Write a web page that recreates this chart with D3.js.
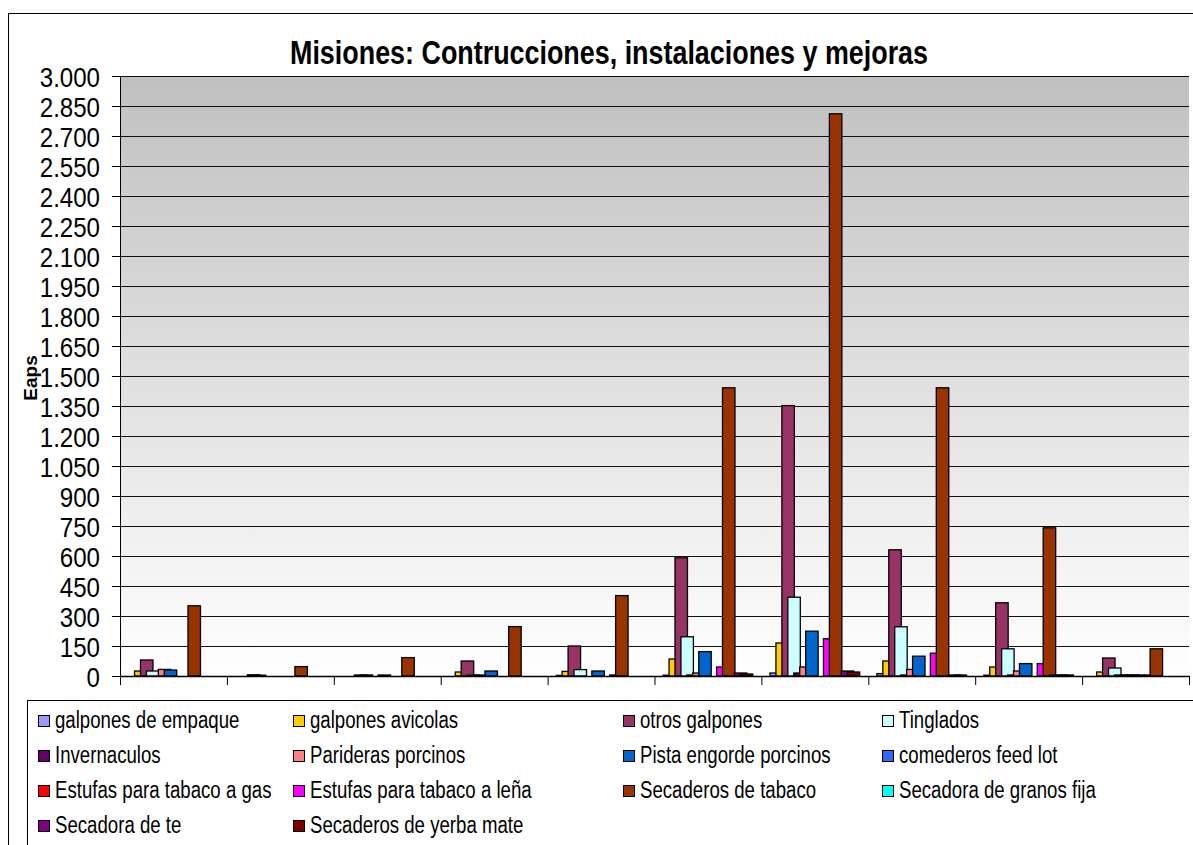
<!DOCTYPE html>
<html>
<head>
<meta charset="utf-8">
<script src="https://cdn.jsdelivr.net/npm/d3@7"></script>
<style>
  body { margin: 0; background: #fff; }
  text { font-family: "Liberation Sans", Arial, sans-serif; }
</style>
</head>
<body>
<div id="chart"></div>
<script>
// Categories (no labels shown on the x axis)
let categorias = ['1', '2', '3', '4', '5', '6', '7', '8', '9', '10'];

// One array per series (Eaps)
let galponesEmpaque   = [0, 0, 0, 0, 3, 4, 15, 12, 4, 0];
let galponesAvicolas  = [25, 0, 0, 20, 23, 85, 165, 75, 45, 20];
let otrosGalpones     = [80, 6, 5, 75, 150, 591, 1352, 631, 366, 90];
let tinglados         = [25, 4, 5, 4, 32, 196, 394, 246, 136, 40];
let invernaculos      = [0, 0, 0, 5, 0, 5, 15, 5, 5, 5];
let parideras         = [33, 0, 0, 0, 0, 15, 45, 33, 25, 5];
let pistaEngorde      = [30, 0, 5, 25, 25, 122, 224, 99, 62, 5];
let comederos         = [0, 0, 0, 0, 0, 0, 0, 0, 0, 5];
let estufasGas        = [0, 0, 0, 0, 0, 0, 0, 0, 0, 0];
let estufasLena       = [0, 0, 0, 0, 5, 45, 186, 114, 62, 5];
let secaderosTabaco   = [351, 47, 92, 247, 402, 1441, 2811, 1441, 741, 136];
let secadoraGranos    = [0, 0, 0, 0, 0, 0, 0, 0, 4, 0];
let secadoraTe        = [0, 0, 0, 0, 0, 15, 25, 5, 5, 0];
let secaderosYerba    = [0, 0, 0, 0, 0, 10, 20, 5, 5, 0];

let nombres = ['galpones de empaque', 'galpones avicolas', 'otros galpones', 'Tinglados',
    'Invernaculos', 'Parideras porcinos', 'Pista engorde porcinos', 'comederos feed lot',
    'Estufas para tabaco a gas', 'Estufas para tabaco a leña', 'Secaderos de tabaco',
    'Secadora de granos fija', 'Secadora de te', 'Secaderos de yerba mate'];

let colores = ['#9999ff', '#ffcc00', '#993366', '#ccffff', '#660066', '#ff8080', '#0066cc',
    '#3366ff', '#ff0000', '#ff00ff', '#993300', '#00ffff', '#800080', '#800000'];

let valores = [galponesEmpaque, galponesAvicolas, otrosGalpones, tinglados, invernaculos,
    parideras, pistaEngorde, comederos, estufasGas, estufasLena, secaderosTabaco,
    secadoraGranos, secadoraTe, secaderosYerba];

let yTicks = d3.range(0, 3001, 150);

let svgWidth = 1193;
let svgHeight = 845;

let plot = { left: 120, right: 1189, top: 76, bottom: 676 };

// squeeze text horizontally, the original uses a narrow font
function narrow(sel, k) {
    sel.each(function() {
        let w = this.getComputedTextLength();
        d3.select(this)
            .attr('textLength', w * k)
            .attr('lengthAdjust', 'spacingAndGlyphs');
    });
}

let svg = d3.select('#chart')
    .append('svg')
    .attr('width', svgWidth)
    .attr('height', svgHeight);

// Outer chart border
svg.append('rect')
    .attr('x', 8.5).attr('y', 13.5)
    .attr('width', 1200).attr('height', 900)
    .attr('fill', '#fff')
    .attr('stroke', '#000')
    .attr('stroke-width', 1);

// Background gradient for the plot area
let grad = svg.append('defs').append('linearGradient')
    .attr('id', 'bg')
    .attr('x1', 0).attr('y1', 0).attr('x2', 0).attr('y2', 1);
grad.append('stop').attr('offset', '0%').attr('stop-color', '#c0c0c0');
grad.append('stop').attr('offset', '100%').attr('stop-color', '#ffffff');

svg.append('rect')
    .attr('x', plot.left).attr('y', plot.top)
    .attr('width', plot.right - plot.left).attr('height', plot.bottom - plot.top)
    .attr('fill', 'url(#bg)');

// Scales
let x0 = d3.scaleBand()
    .domain(categorias)
    .range([plot.left, plot.right])
    .paddingInner(0)
    .paddingOuter(0);

let x1 = d3.scaleBand()
    .domain(nombres)
    .range([0, x0.bandwidth()])
    .paddingInner(0)
    .paddingOuter(2);

let barWidth = x1.step() * 2.1;

let y = d3.scaleLinear()
    .domain([0, 3000])
    .range([plot.bottom, plot.top]);

let xEdges = d3.scaleLinear()
    .domain([0, categorias.length])
    .range([plot.left, plot.right]);

let locale = d3.formatLocale({ decimal: ',', thousands: '.', grouping: [3], currency: ['$', ''] });
let fmt = locale.format(',d');

// Gridlines
svg.append('g')
    .attr('transform', `translate(${plot.left}, 0)`)
    .call(d3.axisLeft(y).tickValues(yTicks).tickSize(-(plot.right - plot.left)).tickFormat(''))
    .call(g => g.select('.domain').remove())
    .call(g => g.selectAll('line').attr('stroke', '#111').attr('stroke-width', 1));

// Bars, drawn series after series so later ones sit on top
nombres.forEach((nombre, i) => {
    svg.append('g')
        .selectAll('rect')
        .data(valores[i])
        .enter()
        .append('rect')
        .attr('x', (d, j) => x0(categorias[j]) + x1(nombre) + x1.step() / 2 - barWidth / 2)
        .attr('y', d => y(d))
        .attr('width', barWidth)
        .attr('height', d => y(0) - y(d))
        .attr('fill', colores[i])
        .attr('stroke', '#000')
        .attr('stroke-width', 1.3)
        .style('display', d => d > 0 ? null : 'none');
});

// Y axis
let yAxis = svg.append('g')
    .attr('transform', `translate(${plot.left}, 0)`)
    .call(d3.axisLeft(y).tickValues(yTicks).tickSize(8).tickSizeOuter(0).tickPadding(12).tickFormat(fmt));
yAxis.select('.domain').attr('stroke', '#000');
yAxis.selectAll('line').attr('stroke', '#000');
yAxis.selectAll('text')
    .attr('font-size', 28)
    .attr('fill', '#000')
    .attr('dy', '0.36em')
    .call(narrow, 0.86);

// X axis: ticks at the category boundaries, no labels
let xAxis = svg.append('g')
    .attr('transform', `translate(0, ${plot.bottom})`)
    .call(d3.axisBottom(xEdges).tickValues(d3.range(0, categorias.length + 1)).tickSize(9).tickSizeOuter(0).tickFormat(''));
xAxis.select('.domain').attr('stroke', '#000').attr('stroke-width', 1.5);
xAxis.selectAll('line').attr('stroke', '#000');

// Title
svg.append('text')
    .attr('x', 609)
    .attr('y', 64)
    .attr('text-anchor', 'middle')
    .attr('font-size', 33)
    .attr('font-weight', 'bold')
    .attr('textLength', 638)
    .attr('lengthAdjust', 'spacingAndGlyphs')
    .text('Misiones: Contrucciones, instalaciones y mejoras');

// Y axis label
svg.append('text')
    .attr('transform', 'translate(37, 378) rotate(-90)')
    .attr('text-anchor', 'middle')
    .attr('font-size', 19)
    .attr('font-weight', 'bold')
    .text('Eaps');

// Legend
svg.append('rect')
    .attr('x', 27.5).attr('y', 700.5)
    .attr('width', 1200).attr('height', 200)
    .attr('fill', '#fff')
    .attr('stroke', '#000');

let legendCols = [38, 293, 623, 882];

let legendItem = svg.append('g')
    .selectAll('g')
    .data(nombres)
    .enter()
    .append('g')
    .attr('transform', (d, i) => `translate(${legendCols[i % 4]}, ${715 + Math.floor(i / 4) * 35})`);

legendItem.append('rect')
    .attr('x', 0.5).attr('y', 0.5)
    .attr('width', 11).attr('height', 11)
    .attr('fill', (d, i) => colores[i])
    .attr('stroke', '#000');

legendItem.append('text')
    .attr('x', 17)
    .attr('y', 13)
    .attr('font-size', 23)
    .text(d => d)
    .call(narrow, 0.81);
</script>
</body>
</html>
